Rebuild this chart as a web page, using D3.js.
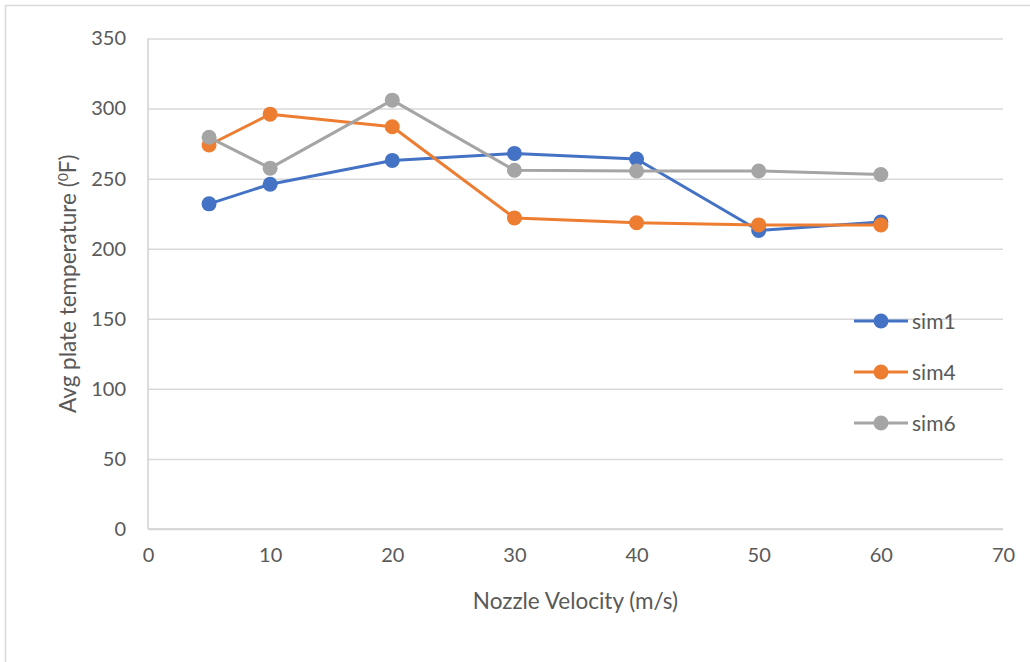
<!DOCTYPE html>
<html>
<head>
<meta charset="utf-8">
<script src="https://cdn.jsdelivr.net/npm/d3@7"></script>
<style>
  html, body { margin: 0; padding: 0; background: #fff; }
  svg { display: block; font-family: Lato, "Open Sans", sans-serif; }
</style>
</head>
<body>
<svg id="chart" width="1030" height="662"></svg>
<script>
// Nozzle velocity (m/s) for each run
const velocities = [5, 10, 20, 30, 40, 50, 60];
// Average plate temperature (°F) per simulation
const sim1 = [232, 246, 263, 268, 264, 213, 219];
const sim4 = [274, 296, 287, 222, 218.5, 217, 217];
const sim6 = [279.5, 257.5, 306, 256, 255.5, 255.5, 253];
const seriesNames = ["sim1", "sim4", "sim6"];
const xTicks = [0, 10, 20, 30, 40, 50, 60, 70];
const yTicks = [0, 50, 100, 150, 200, 250, 300, 350];

const colors = { sim1: "#4472C4", sim4: "#ED7D31", sim6: "#A5A5A5" };
const seriesData = { sim1, sim4, sim6 };

const svg = d3.select("#chart");
const plot = { left: 148, right: 1003, top: 38.5, bottom: 529 };

// outer chart frame
svg.append("rect")
  .attr("x", 5.5).attr("y", 5.5)
  .attr("width", 1040).attr("height", 680)
  .attr("fill", "none").attr("stroke", "#d9d9d9").attr("stroke-width", 1.5);

const x = d3.scaleLinear().domain([0, 70]).range([plot.left, plot.right]);
const y = d3.scaleLinear().domain([0, 350]).range([plot.bottom, plot.top]);

// horizontal gridlines
svg.append("g")
  .attr("transform", `translate(${plot.left},0)`)
  .call(d3.axisLeft(y).tickValues(yTicks).tickSize(-(plot.right - plot.left)).tickFormat(""))
  .call(g => g.select(".domain").remove())
  .call(g => g.selectAll(".tick line").attr("stroke", "#d9d9d9").attr("stroke-width", 1.5));

// axis lines
svg.append("line")
  .attr("x1", plot.left).attr("x2", plot.left)
  .attr("y1", plot.top).attr("y2", plot.bottom)
  .attr("stroke", "#d0d0d0").attr("stroke-width", 1.5);
svg.append("line")
  .attr("x1", plot.left).attr("x2", plot.right)
  .attr("y1", plot.bottom).attr("y2", plot.bottom)
  .attr("stroke", "#d0d0d0").attr("stroke-width", 1.5);

// y tick labels
svg.append("g")
  .attr("transform", `translate(${plot.left},0)`)
  .call(d3.axisLeft(y).tickValues(yTicks).tickSize(0).tickPadding(22))
  .call(g => g.select(".domain").remove())
  .call(g => g.selectAll("text")
    .attr("fill", "#595959").style("font-size", "20px")
    .style("font-family", "Lato, 'Open Sans', sans-serif"));

// x tick labels
svg.append("g")
  .attr("transform", `translate(0,${plot.bottom})`)
  .call(d3.axisBottom(x).tickValues(xTicks).tickSize(0).tickPadding(19))
  .call(g => g.select(".domain").remove())
  .call(g => g.selectAll("text")
    .attr("fill", "#595959").style("font-size", "20px")
    .style("font-family", "Lato, 'Open Sans', sans-serif"));

// axis titles
svg.append("text")
  .attr("x", (plot.left + plot.right) / 2).attr("y", 609)
  .attr("text-anchor", "middle").attr("fill", "#595959")
  .style("font-size", "22.5px")
  .text("Nozzle Velocity (m/s)");

const yt = svg.append("text")
  .attr("transform", `translate(76,${(plot.top + plot.bottom) / 2}) rotate(-90)`)
  .attr("text-anchor", "middle").attr("fill", "#595959")
  .style("font-size", "22.5px");
yt.append("tspan").text("Avg plate temperature (");
yt.append("tspan").attr("baseline-shift", "super").style("font-size", "14px").text("0");
yt.append("tspan").text("F)");

// series lines and markers
const line = d3.line().x((d, i) => x(velocities[i])).y(d => y(d));
seriesNames.forEach(name => {
  const vals = seriesData[name];
  const g = svg.append("g");
  g.append("path").datum(vals)
    .attr("d", line).attr("fill", "none")
    .attr("stroke", colors[name]).attr("stroke-width", 3)
    .attr("stroke-linejoin", "round").attr("stroke-linecap", "round");
  g.selectAll("circle").data(vals).join("circle")
    .attr("cx", (d, i) => x(velocities[i])).attr("cy", d => y(d))
    .attr("r", 7.5).attr("fill", colors[name]);
});

// legend
const legend = svg.append("g");
seriesNames.forEach((name, i) => {
  const ly = 321 + i * 51;
  legend.append("line")
    .attr("x1", 854).attr("x2", 908).attr("y1", ly).attr("y2", ly)
    .attr("stroke", colors[name]).attr("stroke-width", 3);
  legend.append("circle").attr("cx", 881).attr("cy", ly).attr("r", 7.5).attr("fill", colors[name]);
  legend.append("text").attr("x", 912).attr("y", ly).attr("dy", "0.36em")
    .attr("fill", "#595959").style("font-size", "21px").text(name);
});
</script>
</body>
</html>
